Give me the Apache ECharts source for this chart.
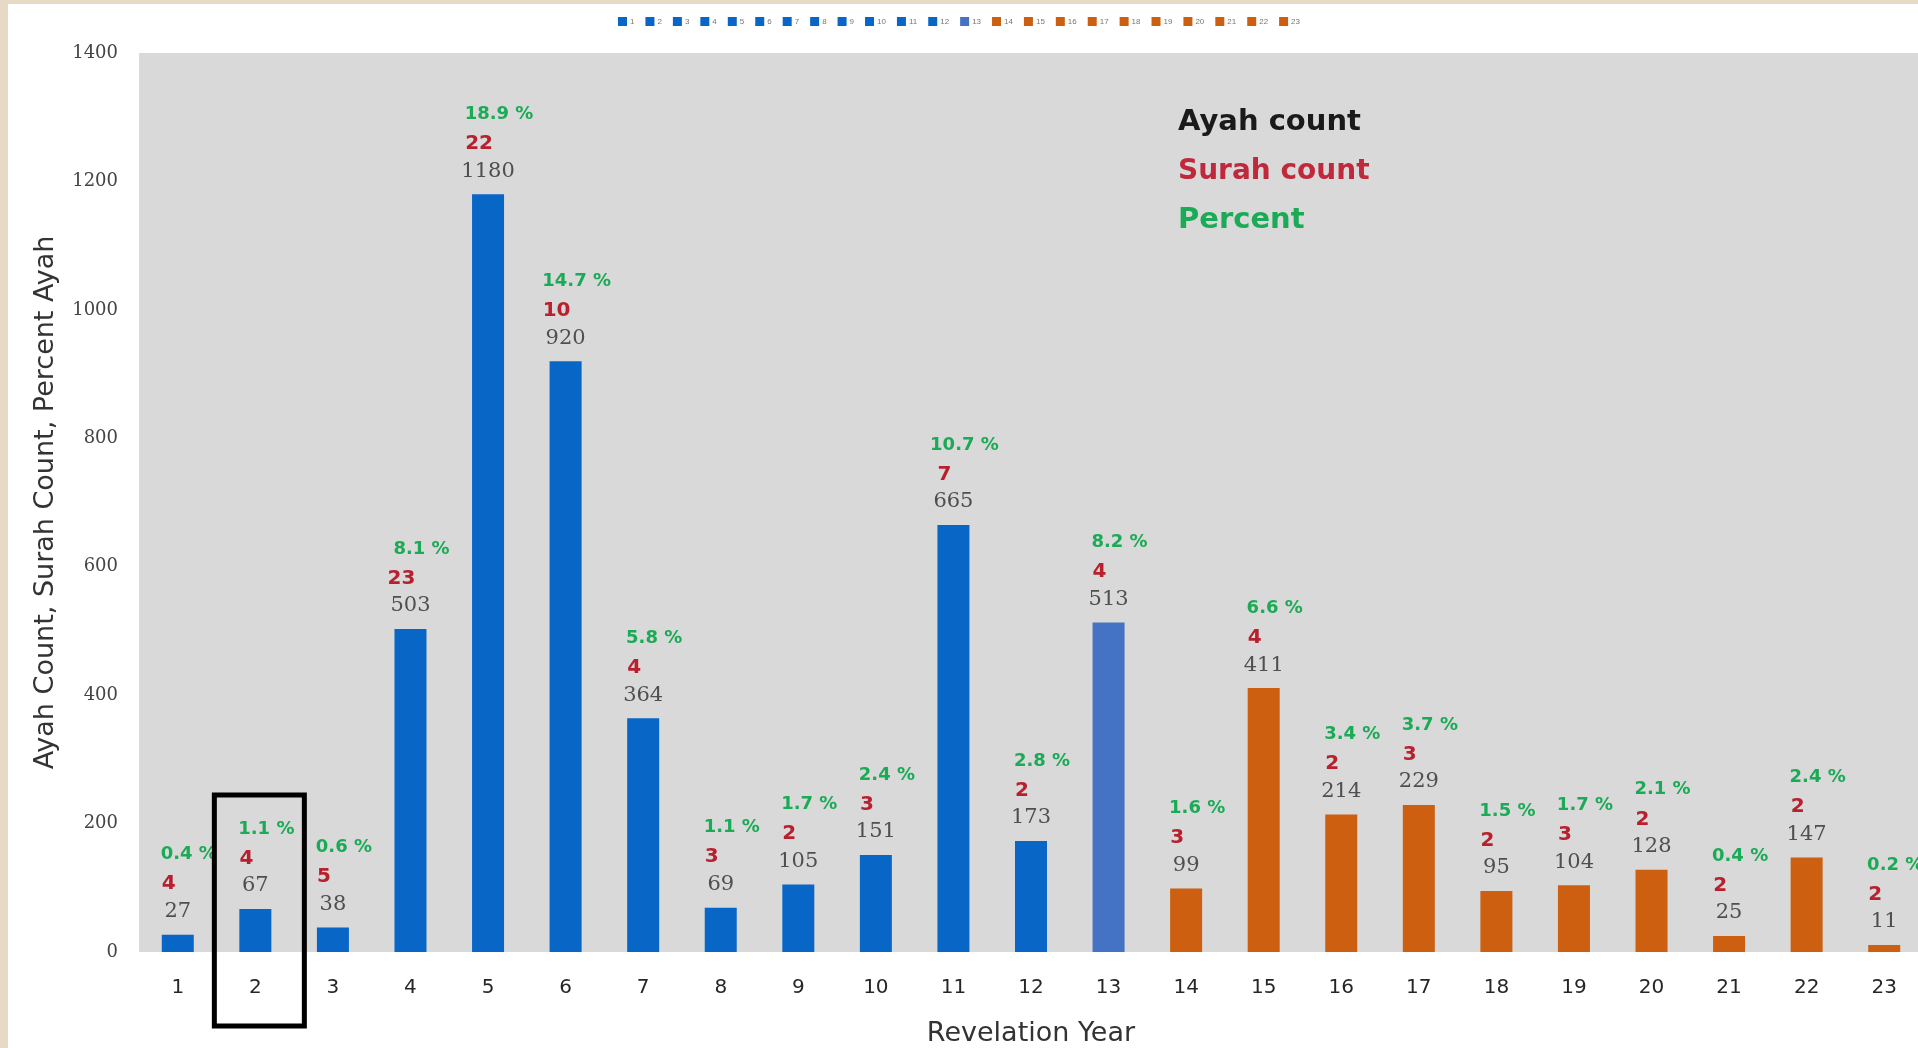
<!DOCTYPE html>
<html>
<head>
<meta charset="utf-8">
<script src="https://cdn.jsdelivr.net/npm/echarts@6/dist/echarts.min.js"></script>
<style>
  html, body { margin: 0; padding: 0; background: #ffffff; }
  #chart { position: absolute; left: 0; top: 0; width: 1918px; height: 1048px; }
  .edgeL { position: absolute; left: 0; top: 0; width: 8px; height: 1048px; background: #E6DAC5; z-index: 5; }
  .edgeT { position: absolute; left: 0; top: 0; width: 1918px; height: 4px; background: #E6DAC5; z-index: 5; }
</style>
</head>
<body>
<div id="chart"></div>
<div class="edgeL"></div>
<div class="edgeT"></div>
<script>
// ---- data ----
const years = ['1','2','3','4','5','6','7','8','9','10','11','12','13','14','15','16','17','18','19','20','21','22','23'];
const ayahCount = [27, 67, 38, 503, 1180, 920, 364, 69, 105, 151, 665, 173, 513, 99, 411, 214, 229, 95, 104, 128, 25, 147, 11];
const surahCount = [4, 4, 5, 23, 22, 10, 4, 3, 2, 3, 7, 2, 4, 3, 4, 2, 3, 2, 3, 2, 2, 2, 2];
const percentAyah = [0.4, 1.1, 0.6, 8.1, 18.9, 14.7, 5.8, 1.1, 1.7, 2.4, 10.7, 2.8, 8.2, 1.6, 6.6, 3.4, 3.7, 1.5, 1.7, 2.1, 0.4, 2.4, 0.2];
const yMin = 0, yMax = 1400, yInterval = 200;
const highlightedYear = '2';
const lastMeccanYear = 13;
const keyLabels = ['Ayah count', 'Surah count', 'Percent'];
const xAxisTitle = 'Revelation Year';
const yAxisTitle = 'Ayah Count, Surah Count, Percent Ayah';

// ---- styling ----
function barColor(i) {
  if (i < lastMeccanYear - 1) return '#0866C6';
  if (i === lastMeccanYear - 1) return '#4472C4';
  return '#CD5F10';
}

const series = years.map(function (y, i) {
  const data = years.map(function (_, j) { return j === i ? ayahCount[j] : '-'; });
  return {
    name: y,
    type: 'bar',
    stack: 'all',
    barWidth: 32,
    data: data,
    itemStyle: { color: barColor(i) },
    label: {
      show: true,
      position: 'top',
      distance: 10,
      formatter: function (p) {
        const k = p.dataIndex;
        return '{p|' + percentAyah[k] + ' %}\n{s|' + surahCount[k] + '}\n{v|' + ayahCount[k] + '}';
      },
      rich: {
        p: { fontFamily: 'DejaVu Sans', fontWeight: 'bold', fontSize: 18, color: '#1BAA55', lineHeight: 30, padding: [0, 0, 0, 22] },
        s: { fontFamily: 'DejaVu Sans', fontWeight: 'bold', fontSize: 20, color: '#B8202E', lineHeight: 29, padding: [0, 18, 0, 0] },
        v: { fontFamily: 'DejaVu Serif', fontSize: 21, color: '#4f4f4f', lineHeight: 26 }
      }
    }
  };
});

const chart = echarts.init(document.getElementById('chart'), null, { renderer: 'canvas' });
chart.setOption({
  animation: false,
  backgroundColor: 'transparent',
  title: {
    left: 1178,
    top: 98,
    padding: 0,
    text: '{a|' + keyLabels[0] + '}\n{b|' + keyLabels[1] + '}\n{c|' + keyLabels[2] + '}',
    textStyle: {
      rich: {
        a: { fontFamily: 'DejaVu Sans', fontWeight: 'bold', fontSize: 29, color: '#1a1a1a', lineHeight: 49 },
        b: { fontFamily: 'DejaVu Sans', fontWeight: 'bold', fontSize: 28, color: '#C0283C', lineHeight: 49 },
        c: { fontFamily: 'DejaVu Sans', fontWeight: 'bold', fontSize: 29, color: '#1BAA55', lineHeight: 49 }
      }
    }
  },
  legend: {
    data: years,
    top: 12,
    left: 'center',
    itemWidth: 9,
    itemHeight: 9,
    itemGap: 11,
    selectedMode: false,
    icon: 'rect',
    textStyle: { fontSize: 8, color: '#777', padding: [0, 0, 0, -2] }
  },
  grid: {
    left: 139, right: -5, top: 53, bottom: 96,
    outerBoundsMode: 'none',
    containLabel: false,
    show: true, backgroundColor: '#D9D9D9', borderWidth: 0
  },
  xAxis: {
    type: 'category',
    data: years,
    name: xAxisTitle,
    nameLocation: 'middle',
    nameGap: 68,
    nameTextStyle: { fontFamily: 'DejaVu Sans', fontSize: 27, color: '#333' },
    axisLine: { show: false },
    axisTick: { show: false },
    axisLabel: { fontFamily: 'DejaVu Sans', fontSize: 20, color: '#262626', margin: 26 }
  },
  yAxis: {
    type: 'value',
    min: yMin, max: yMax, interval: yInterval,
    name: yAxisTitle,
    nameLocation: 'middle',
    nameGap: 80,
    nameRotate: 90,
    nameTextStyle: { fontFamily: 'DejaVu Sans', fontSize: 27, color: '#333' },
    axisLine: { show: false },
    axisTick: { show: false },
    splitLine: { show: false },
    axisLabel: { fontFamily: 'DejaVu Serif', fontSize: 18, color: '#444', margin: 21,
      formatter: function (v) { return String(v); } }
  },
  series: series
});

// highlight box around the selected year, positioned through the axes
const hi = years.indexOf(highlightedYear);
const pt = chart.convertToPixel({ gridIndex: 0 }, [hi, 0]);
chart.setOption({
  graphic: [{
    type: 'rect',
    shape: { x: pt[0] - 41, y: pt[1] - 157, width: 90, height: 231 },
    style: { fill: 'none', stroke: '#000', lineWidth: 5 },
    z: 100
  }]
});
</script>
</body>
</html>
